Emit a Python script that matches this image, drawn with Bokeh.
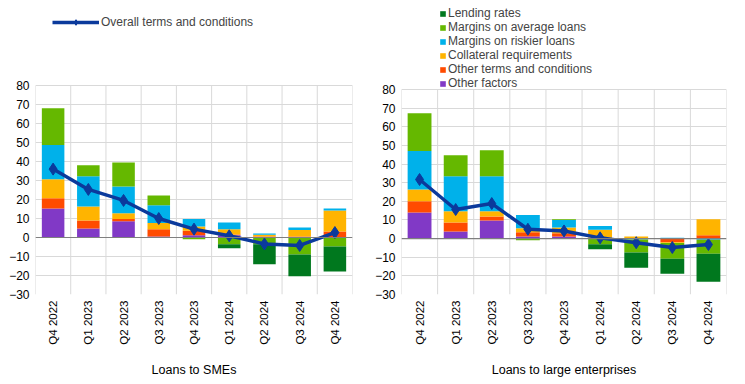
import numpy as np
from bokeh.plotting import figure
from bokeh.layouts import row
from bokeh.models import (Range1d, FixedTicker, Span, Legend, LegendItem, ColumnDataSource)
from bokeh.embed import file_html
from bokeh.resources import INLINE

categories = ["Q4 2022", "Q1 2023", "Q2 2023", "Q3 2023", "Q4 2023",
              "Q1 2024", "Q2 2024", "Q3 2024", "Q4 2024"]

series_names = ["Other factors", "Other terms and conditions", "Collateral requirements",
                "Margins on riskier loans", "Margins on average loans", "Lending rates"]
series_colors = ["#8139C6", "#FF4B00", "#FFB400", "#00B1EA", "#65B800", "#00781E"]

# Loans to SMEs
sme_other_factors = [15.3, 4.7, 8.6, 0.5, 1.2, 1.2, 0.0, 0.0, 0.0]
sme_other_terms = [5.3, 4.3, 1.1, 3.9, 2.3, 0.4, 0.5, 0.5, 3.2]
sme_collateral = [10.0, 7.3, 3.1, 3.2, 2.3, 2.8, 0.9, 3.5, 11.0]
sme_riskier = [18.1, 15.9, 14.1, 9.4, 3.9, 3.5, 0.7, 1.3, 1.1]
sme_average = [19.3, 5.8, 12.6, 5.1, -0.9, -3.5, -3.5, -9.0, -4.7]
sme_lending = [0.0, 0.0, 0.0, 0.0, 0.0, -2.1, -10.6, -11.4, -13.2]
sme_overall = [36.0, 25.3, 19.5, 10.0, 4.4, 0.9, -3.4, -4.2, 2.6]

# Loans to large enterprises
le_other_factors = [14.0, 3.8, 9.7, 1.1, 1.1, 0.0, 0.0, 0.0, 0.0]
le_other_terms = [6.1, 4.8, 2.1, 2.3, 1.8, 0.5, 0.0, -2.0, 1.8]
le_collateral = [6.3, 6.1, 2.9, 2.2, 3.0, 4.2, 1.1, -0.3, 8.6]
le_riskier = [20.6, 18.7, 18.7, 7.0, 4.1, 2.1, -0.5, 0.5, -0.6]
le_average = [20.3, 11.3, 14.0, -0.9, 0.4, -3.0, -7.0, -8.5, -7.5]
le_lending = [0.0, 0.0, 0.0, 0.0, 0.0, -2.7, -8.1, -8.0, -15.0]
le_overall = [31.7, 15.6, 18.8, 5.0, 4.1, 0.4, -2.2, -4.8, -3.2]

y_ticks = [-30, -20, -10, 0, 10, 20, 30, 40, 50, 60, 70, 80]

FONT = "Liberation Sans"
LINE_COLOR = "#0B3A9C"
GRID = "#D9D9D9"
FRAME_H = 289  # frame spans from near the figure top down to the -30 gridline


def make_panel(series, overall, title, fw, px_per_unit, bl, br, bar_w,
               show_bar_legend, show_line_legend, leg_pos):
    y_lo, y_hi = y_ticks[0], y_ticks[-1]
    y_top = y_lo + FRAME_H / px_per_unit  # headroom above 80 holds the legend
    p = figure(frame_width=fw, frame_height=FRAME_H, output_backend="svg", toolbar_location=None,
               x_range=Range1d(-0.5, len(categories) - 0.5), y_range=Range1d(y_lo, y_top),
               min_border_left=bl, min_border_right=br, min_border_top=5, min_border_bottom=10)
    p.outline_line_color = None
    x = np.arange(len(categories))

    # vertical gridlines between categories, only over the value range
    bounds = np.arange(len(categories) + 1) - 0.5
    p.segment(x0=bounds, y0=[y_lo] * len(bounds), x1=bounds, y1=[y_hi] * len(bounds),
              line_color=GRID, line_width=1)

    pos = np.zeros(len(categories))
    neg = np.zeros(len(categories))
    bar_renderers = []
    for vals, name, col in zip(series, series_names, series_colors):
        v = np.array(vals, dtype=float)
        bottom = np.where(v >= 0, pos, neg + v)
        top = np.where(v >= 0, pos + v, neg)
        pos = pos + np.clip(v, 0, None)
        neg = neg + np.clip(v, None, 0)
        src = ColumnDataSource(dict(x=x, bottom=bottom, top=top))
        r = p.vbar(x="x", bottom="bottom", top="top", width=bar_w, source=src,
                   fill_color=col, line_color=None)
        bar_renderers.append((name, r))

    p.add_layout(Span(location=0, dimension="width", line_color="#7F7F7F", line_width=1.2))

    lsrc = ColumnDataSource(dict(x=x, y=overall))
    lr = p.line("x", "y", source=lsrc, line_color=LINE_COLOR, line_width=3.5)
    mr = p.scatter("x", "y", source=lsrc, marker="diamond", size=12,
                   fill_color=LINE_COLOR, line_color=LINE_COLOR)

    # axes
    p.yaxis.ticker = FixedTicker(ticks=y_ticks)
    p.yaxis.axis_line_color = None
    p.yaxis.major_tick_line_color = None
    p.yaxis.minor_tick_line_color = None
    p.yaxis.major_tick_out = 0
    p.yaxis.major_tick_in = 0
    p.yaxis.major_label_text_font = FONT
    p.yaxis.major_label_text_font_size = "12px"
    p.yaxis.major_label_text_color = "#000000"
    p.yaxis.major_label_standoff = 6

    p.xaxis.ticker = FixedTicker(ticks=list(range(len(categories))))
    p.xaxis.major_label_overrides = {i: c for i, c in enumerate(categories)}
    p.xaxis.major_label_orientation = np.pi / 2
    p.xaxis.axis_line_color = None
    p.xaxis.major_tick_line_color = None
    p.xaxis.minor_tick_line_color = None
    p.xaxis.major_tick_out = 0
    p.xaxis.major_tick_in = 0
    p.xaxis.major_label_text_font = FONT
    p.xaxis.major_label_text_font_size = "11.5px"
    p.xaxis.major_label_text_color = "#000000"
    p.xaxis.major_label_standoff = 6
    p.xaxis.axis_label = title
    p.xaxis.axis_label_text_font = FONT
    p.xaxis.axis_label_text_font_size = "12.5px"
    p.xaxis.axis_label_text_font_style = "normal"
    p.xaxis.axis_label_text_color = "#000000"
    p.xaxis.axis_label_standoff = 15

    p.ygrid.ticker = FixedTicker(ticks=y_ticks)
    p.ygrid.grid_line_color = GRID
    p.xgrid.visible = False

    common = dict(location=leg_pos, padding=0, margin=0,
                  label_text_font=FONT, label_text_font_size="12px",
                  background_fill_alpha=0, border_line_color=None)
    if show_line_legend:
        leg = Legend(items=[LegendItem(label="Overall terms and conditions", renderers=[lr, mr])],
                     spacing=0, glyph_width=47, glyph_height=14, label_height=14,
                     label_standoff=2, **common)
        p.add_layout(leg, "center")
    if show_bar_legend:
        items = [LegendItem(label=n, renderers=[r]) for n, r in reversed(bar_renderers)]
        leg = Legend(items=items, spacing=0, glyph_width=7, glyph_height=7, label_height=14,
                     label_standoff=2, **common)
        p.add_layout(leg, "center")
    return p


sme_series = [sme_other_factors, sme_other_terms, sme_collateral, sme_riskier, sme_average, sme_lending]
le_series = [le_other_factors, le_other_terms, le_collateral, le_riskier, le_average, le_lending]

left = make_panel(sme_series, sme_overall, "Loans to SMEs", 317, 209 / 110, 35, 20,
                  0.64, False, True, (17, 265))
right = make_panel(le_series, le_overall, "Loans to large enterprises", 325, 205 / 110, 24, 8,
                   0.66, True, False, (38, 204))

layout = row(left, right)
open("out.html", "w").write(file_html(layout, INLINE))
